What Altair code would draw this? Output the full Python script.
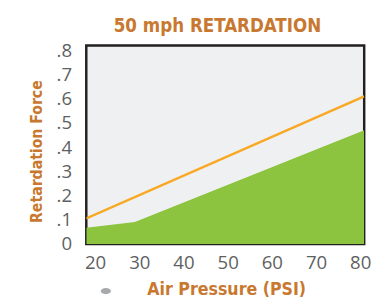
import altair as alt
import pandas as pd

# Data
area_x = [18, 29, 80.9]
area_y = [0.067, 0.091, 0.47]
line_x = [18, 80.9]
line_y = [0.106, 0.61]
x_ticks = [20, 30, 40, 50, 60, 70, 80]
y_ticks = [0, 0.1, 0.2, 0.3, 0.4, 0.5, 0.6, 0.7, 0.8]

area_df = pd.DataFrame({"x": area_x, "y": area_y})
line_df = pd.DataFrame({"x": line_x, "y": line_y})

ORANGE = "#C8782F"
GRAY = "#5E5F61"
TFONT = "Liberation Sans Narrow, DejaVu Sans Condensed"
LFONT = "Open Sans"

xscale = alt.Scale(domain=[18, 80.9], nice=False, zero=False)
yscale = alt.Scale(domain=[0, 0.82], nice=False)

xaxis = alt.Axis(
    values=x_ticks, title="Air Pressure (PSI)", ticks=False, tickSize=0, domain=False,
    grid=False, labelFont=LFONT, labelFontSize=19, labelColor=GRAY, labelPadding=10,
    labelOverlap=False, labelFlush=False,
    titleFont=TFONT, titleFontSize=18, titleFontWeight="bold", titleColor=ORANGE,
    titleX=143, titleY=47, titleBaseline="middle", titleAlign="center",
)
yaxis = alt.Axis(
    values=y_ticks, title="Retardation Force", ticks=False, tickSize=0, domain=False,
    grid=False, labelFont=LFONT, labelFontSize=19, labelColor=GRAY, labelPadding=15,
    labelOverlap=False, labelFlush=False, labelSeparation=0,
    labelExpr="datum.value == 0 ? '0' : replace(format(datum.value, '.1f'), '0.', '.')",
    titleFont=TFONT, titleFontSize=16, titleFontWeight="bold", titleColor=ORANGE,
    titleX=-51, titleY=108, titleAngle=-90, titleBaseline="middle", titleAlign="center",
)

area = alt.Chart(area_df).mark_area(color="#8CC43F", clip=True).encode(
    x=alt.X("x:Q", scale=xscale, axis=xaxis),
    y=alt.Y("y:Q", scale=yscale, axis=yaxis),
)
line = alt.Chart(line_df).mark_line(color="#F9A823", strokeWidth=2.5, clip=True).encode(
    x=alt.X("x:Q", scale=xscale, axis=xaxis),
    y=alt.Y("y:Q", scale=yscale, axis=yaxis),
)
dot = alt.Chart(pd.DataFrame({"k": [0]})).mark_point(
    shape="M-1,0 A1,0.6 0 1,0 1,0 A1,0.6 0 1,0 -1,0 Z", size=110, filled=True,
    color="#A7A9AC", opacity=1
).encode(x=alt.value(20), y=alt.value(251))

chart = alt.layer(area, line, dot).properties(
    width=284, height=203,
    title=alt.TitleParams(
        "50 mph RETARDATION", font=TFONT, fontSize=19, fontWeight="bold",
        color=ORANGE, anchor="middle", dx=-8, offset=6, frame="group",
    ),
    autosize=alt.AutoSizeParams(type="none"),
    padding={"left": 80, "top": 35, "right": 9, "bottom": 59},
    background="white",
).configure_view(
    fill="#EFF0F1", stroke="#231F20", strokeWidth=2.5
)

chart.save("out.html", embed_options={"renderer": "svg", "actions": False})
